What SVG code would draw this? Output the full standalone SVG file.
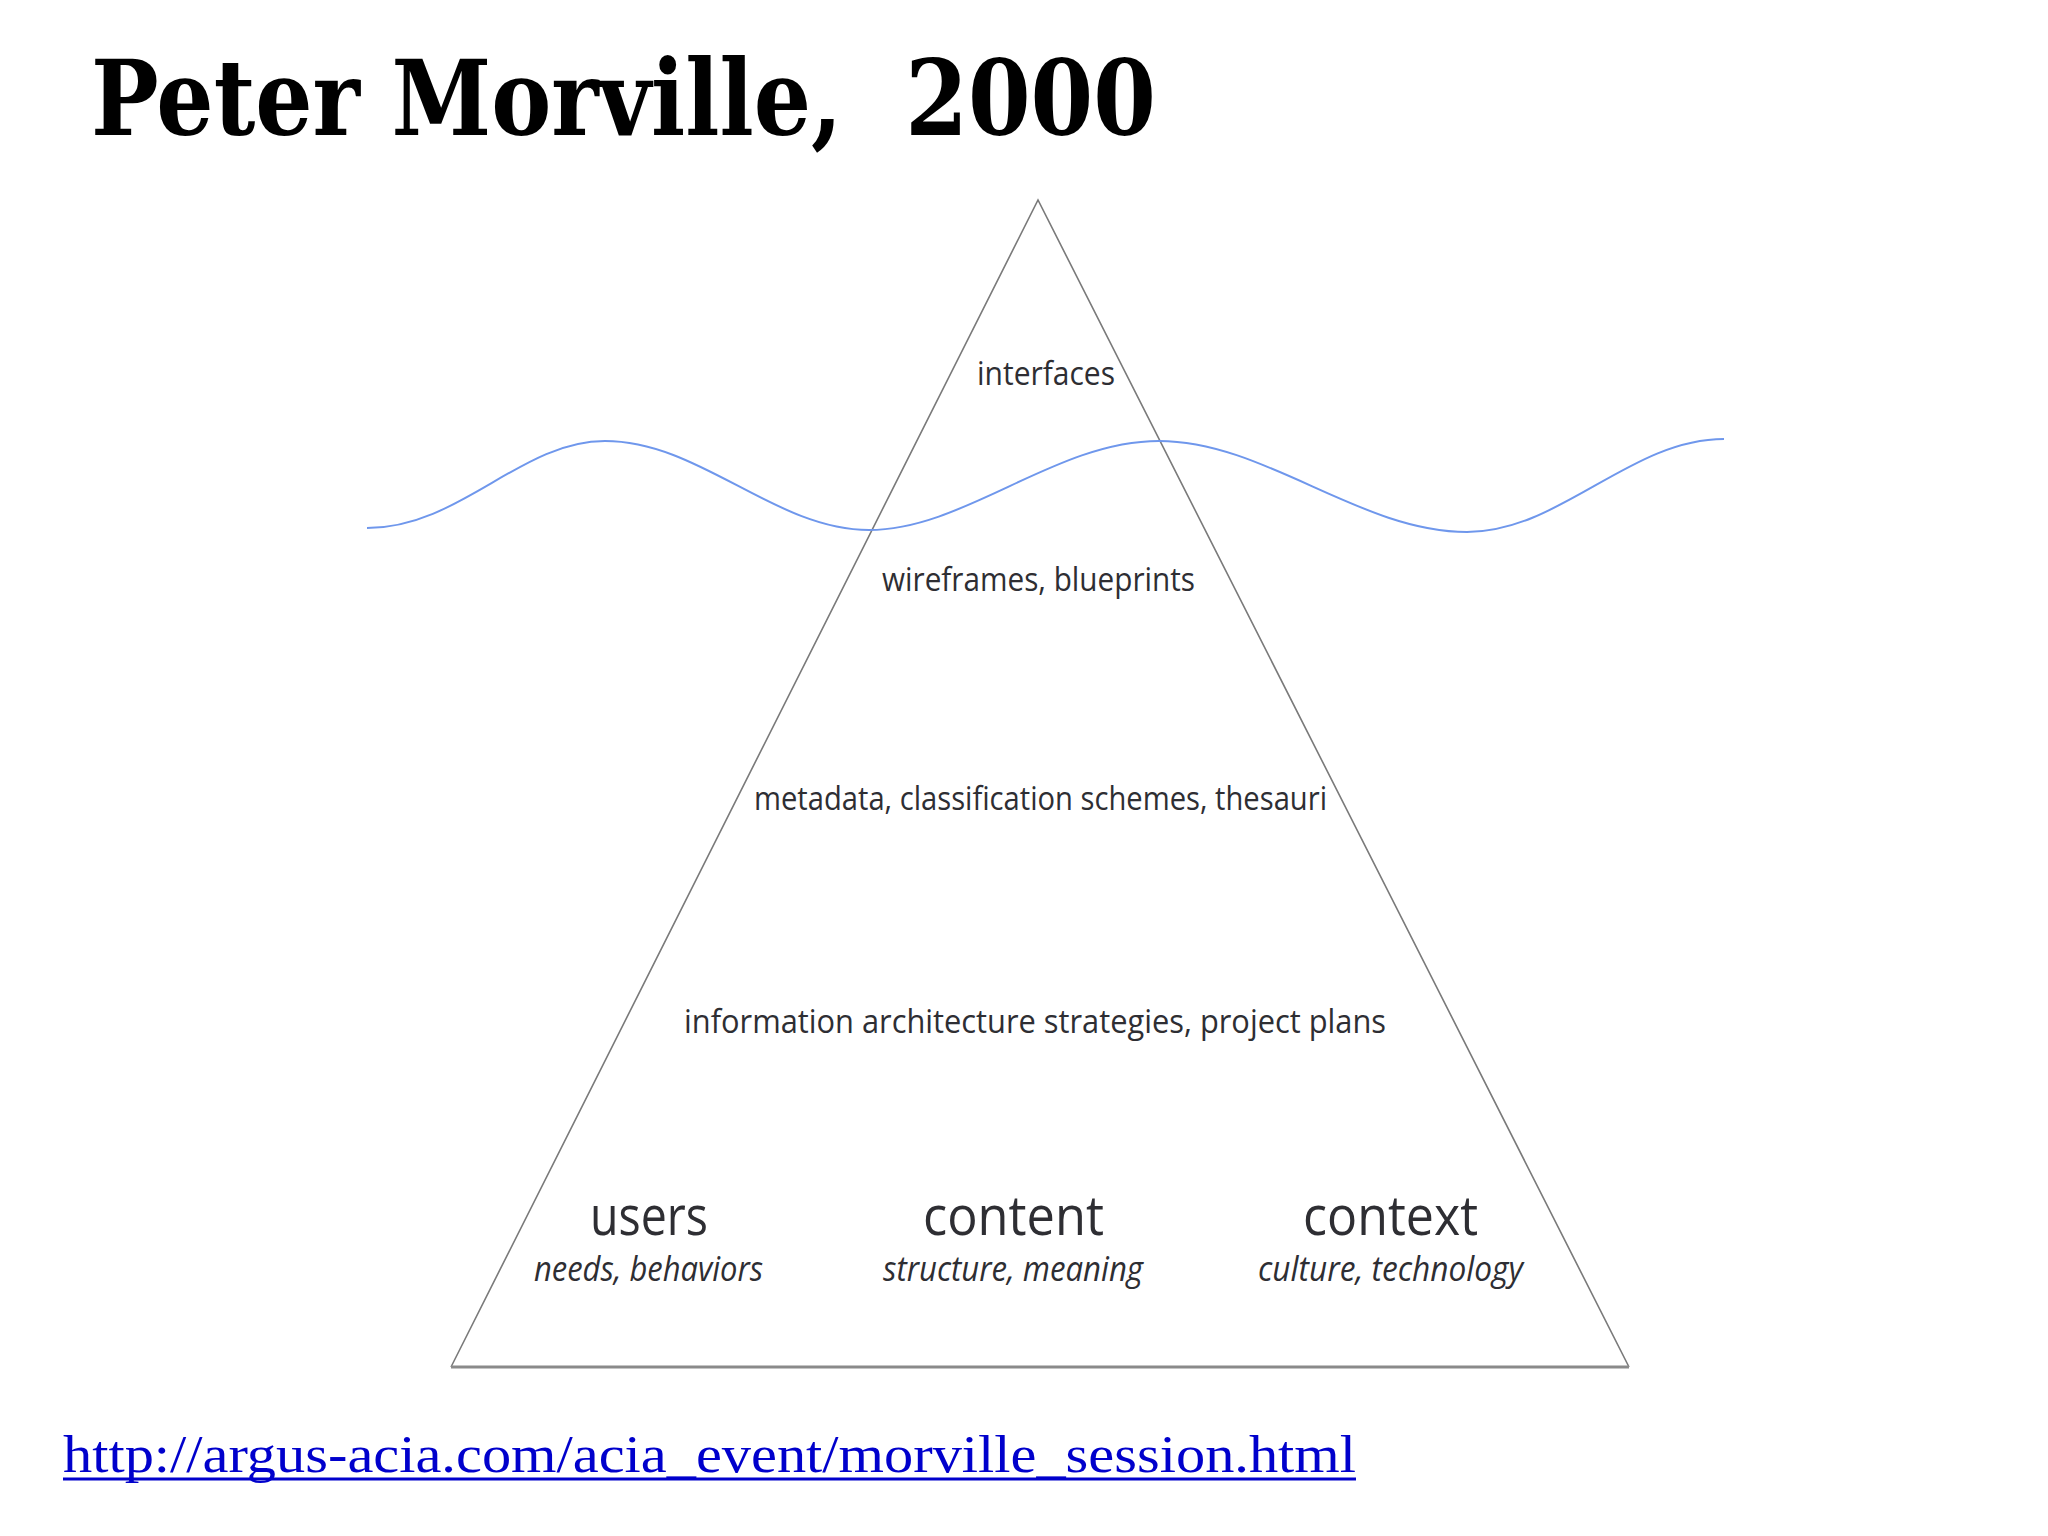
<svg xmlns="http://www.w3.org/2000/svg" width="2048" height="1536" viewBox="0 0 2048 1536">
  <style>
    .lbl { font-family: "Open Sans", "DejaVu Sans", sans-serif; fill: #2e2e33; }
    .small { font-size: 32px; }
    .big { font-size: 54px; }
    .ital { font-size: 34px; font-style: italic; }
    .edge { fill: none; stroke: #7a7a7a; stroke-width: 1.6; }
  </style>
  <rect width="2048" height="1536" fill="#ffffff"/>

  <g id="title">
    <text x="91" y="135" font-family="'DejaVu Serif', 'Liberation Serif', serif" font-size="104" font-weight="bold" fill="#000" textLength="1065" lengthAdjust="spacingAndGlyphs" xml:space="preserve">Peter Morville,  2000</text>
  </g>

  <g id="pyramid">
    <polyline class="edge" points="451,1367 1038,200 1629,1367"/>
    <line x1="451" y1="1367" x2="1629" y2="1367" stroke="#8a8a8a" stroke-width="3"/>
  </g>

  <g id="waterline">
    <path d="M367,528 C460,528 520,441 605,441 C700,441 775,530 869,530 C965,530 1055,441 1159,441 C1265,441 1360,532 1467,532 C1560,532 1630,439 1724,439" fill="none" stroke="#6f97ec" stroke-width="2"/>
  </g>

  <g id="layer-interfaces">
    <text class="lbl small" x="977" y="385" textLength="138" lengthAdjust="spacingAndGlyphs">interfaces</text>
  </g>
  <g id="layer-wireframes">
    <text class="lbl small" x="882" y="591" textLength="313" lengthAdjust="spacingAndGlyphs">wireframes, blueprints</text>
  </g>
  <g id="layer-metadata">
    <text class="lbl small" x="754" y="810" textLength="573" lengthAdjust="spacingAndGlyphs">metadata, classification schemes, thesauri</text>
  </g>
  <g id="layer-strategies">
    <text class="lbl small" x="684" y="1033" textLength="702" lengthAdjust="spacingAndGlyphs">information architecture strategies, project plans</text>
  </g>

  <g id="users">
    <text class="lbl big" x="590" y="1235" textLength="118" lengthAdjust="spacingAndGlyphs">users</text>
    <text class="lbl ital" x="534" y="1281" textLength="229" lengthAdjust="spacingAndGlyphs">needs, behaviors</text>
  </g>
  <g id="content">
    <text class="lbl big" x="923" y="1235" textLength="181" lengthAdjust="spacingAndGlyphs">content</text>
    <text class="lbl ital" x="883" y="1281" textLength="260" lengthAdjust="spacingAndGlyphs">structure, meaning</text>
  </g>
  <g id="context">
    <text class="lbl big" x="1303" y="1235" textLength="175" lengthAdjust="spacingAndGlyphs">context</text>
    <text class="lbl ital" x="1258" y="1281" textLength="265" lengthAdjust="spacingAndGlyphs">culture, technology</text>
  </g>

  <g id="url">
    <text x="63" y="1472" font-family="'Liberation Serif', 'Times New Roman', serif" font-size="52" fill="#0000cc" textLength="1293" lengthAdjust="spacingAndGlyphs">http://argus-acia.com/acia_event/morville_session.html</text>
    <line x1="63" y1="1479" x2="1356" y2="1479" stroke="#0000cc" stroke-width="3"/>
  </g>
</svg>
